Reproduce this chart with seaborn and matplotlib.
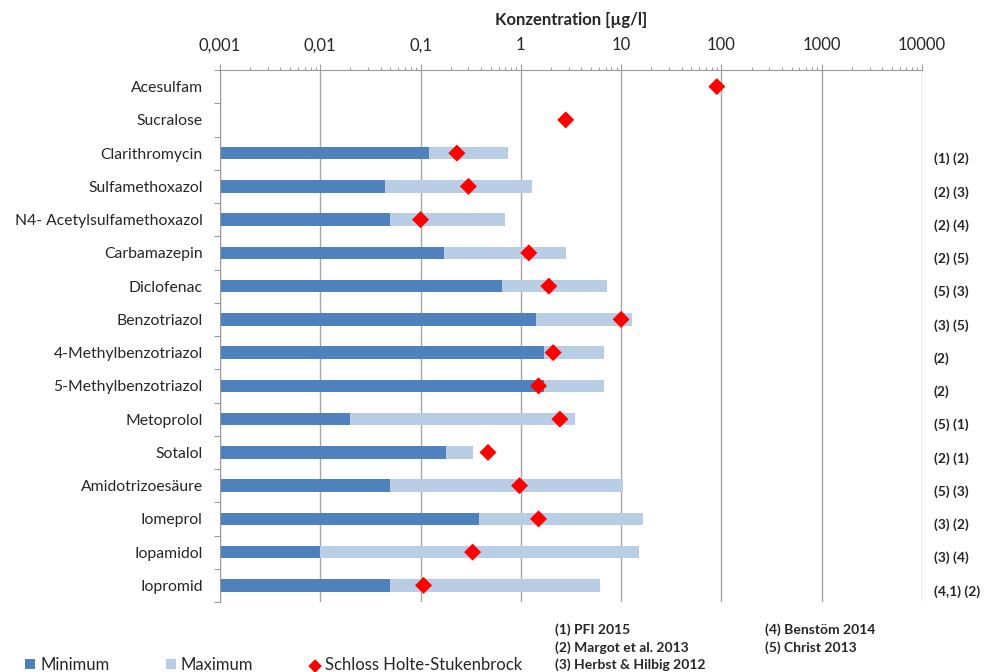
import numpy as np
import pandas as pd
import matplotlib
matplotlib.use("Agg")
import matplotlib.pyplot as plt
from matplotlib.ticker import LogLocator, NullFormatter
import seaborn as sns

# Substances (top to bottom)
categories = [
    "Acesulfam", "Sucralose", "Clarithromycin", "Sulfamethoxazol",
    "N4- Acetylsulfamethoxazol", "Carbamazepin", "Diclofenac", "Benzotriazol",
    "4-Methylbenzotriazol", "5-Methylbenzotriazol", "Metoprolol", "Sotalol",
    "Amidotrizoesäure", "Iomeprol", "Iopamidol", "Iopromid",
]
# Literature minimum / maximum concentrations [µg/l]
minimum = [np.nan, np.nan, 0.12, 0.044, 0.05, 0.17, 0.65, 1.4,
           1.7, 1.7, 0.02, 0.18, 0.05, 0.38, 0.01, 0.05]
maximum = [np.nan, np.nan, 0.74, 1.3, 0.7, 2.8, 7.3, 12.8,
           6.7, 6.7, 3.5, 0.33, 10.4, 16.6, 14.9, 6.2]
# Measured values at Schloss Holte-Stukenbrock [µg/l]
schloss = [90, 2.8, 0.23, 0.3, 0.1, 1.2, 1.9, 10.0,
           2.1, 1.5, 2.45, 0.47, 0.97, 1.5, 0.33, 0.107]
# Literature sources per substance
sources = ["", "", "(1) (2)", "(2) (3)", "(2) (4)", "(2) (5)", "(5) (3)", "(3) (5)",
           "(2)", "(2)", "(5) (1)", "(2) (1)", "(5) (3)", "(3) (2)", "(3) (4)", "(4,1) (2)"]
references = [
    ("(1) PFI 2015", "(4) Benstöm 2014"),
    ("(2) Margot et al. 2013", "(5) Christ 2013"),
    ("(3) Herbst & Hilbig 2012", ""),
]
tick_values = [0.001, 0.01, 0.1, 1, 10, 100, 1000, 10000]
tick_labels = ["0,001", "0,01", "0,1", "1", "10", "100", "1000", "10000"]

sns.set_style("white")
plt.rcParams["font.family"] = ["Lato", "DejaVu Sans"]

C_MIN = "#4F81BD"
C_MAX = "#B9CDE5"
C_GRID = "#A6A6A6"
C_AX = "#9A9A9A"

df = pd.DataFrame({"Substanz": categories, "Minimum": minimum,
                   "Maximum": maximum, "Schloss": schloss,
                   "pos": np.arange(len(categories))})

fig = plt.figure(figsize=(9.9, 6.72), dpi=100)
ax = fig.add_axes([220 / 990, 1 - 602 / 672, 702 / 990, 532 / 672])

sns.barplot(data=df, x="Maximum", y="Substanz", order=categories, orient="h",
            color=C_MAX, saturation=1, width=0.38, linewidth=0, ax=ax,
            label="Maximum", legend=False)
sns.barplot(data=df, x="Minimum", y="Substanz", order=categories, orient="h",
            color=C_MIN, saturation=1, width=0.38, linewidth=0, ax=ax,
            label="Minimum", legend=False)
sns.scatterplot(data=df, x="Schloss", y="pos", marker="D", color="#FF0000",
                s=75, edgecolor="none", zorder=5, ax=ax,
                label="Schloss Holte-Stukenbrock", legend=False)

ax.set_xscale("log")
ax.set_xlim(1e-3, 1e4)
ax.set_ylim(len(categories) - 0.5, -0.5)

# Top concentration axis
ax.xaxis.tick_top()
ax.xaxis.set_label_position("top")
ax.set_xticks(tick_values, labels=tick_labels)
ax.xaxis.set_minor_locator(LogLocator(base=10, subs=np.arange(2, 10)))
ax.xaxis.set_minor_formatter(NullFormatter())
ax.tick_params(axis="x", which="major", direction="out", length=4, width=0.8,
               color=C_AX, labelsize=12, pad=8, top=True, bottom=False)
ax.tick_params(axis="x", which="minor", direction="out", length=2.5, width=0.7,
               color=C_AX, top=True, bottom=False)
ax.set_xlabel("Konzentration [µg/l]", fontsize=12, fontweight="bold", labelpad=9)

# Category axis with tick marks between rows
ax.set_yticks(np.arange(len(categories)), labels=categories)
ax.set_yticks(np.arange(len(categories) + 1) - 0.5, minor=True)
ax.tick_params(axis="y", which="major", length=0, labelsize=11.3, pad=12.5)
ax.tick_params(axis="y", which="minor", direction="out", length=4, width=0.8,
               color=C_AX, left=True)
ax.set_ylabel("")

ax.grid(axis="x", which="major", color=C_GRID, linewidth=1)
ax.grid(axis="y", visible=False)
ax.set_axisbelow(True)
for side in ["bottom", "right"]:
    ax.spines[side].set_visible(False)
for side in ["top", "left"]:
    ax.spines[side].set_color(C_AX)
    ax.spines[side].set_linewidth(0.8)

# Source references next to each row
for i, src in enumerate(sources):
    if src:
        ax.annotate(src, xy=(1.0, i), xycoords=("axes fraction", "data"),
                    xytext=(12, -6), textcoords="offset pixels",
                    ha="left", va="center", fontsize=10, fontweight="bold",
                    annotation_clip=False)

# Legend
h_max = ax.containers[0]
h_min = ax.containers[1]
h_pt = ax.collections[-1]
fig.legend([h_min, h_max, h_pt],
           ["Minimum", "Maximum", "Schloss Holte-Stukenbrock"],
           ncol=3, loc="center left", bbox_to_anchor=(25 / 990, 1 - 665 / 672),
           frameon=False, fontsize=12, handlelength=0.6, handleheight=0.6,
           handletextpad=0.3, columnspacing=3.4, borderpad=0, borderaxespad=0,
           scatterpoints=1, markerscale=0.8)

# Reference list
for r, (left, right) in enumerate(references):
    y = 1 - (630 + r * 17.5) / 672
    fig.text(555 / 990, y, left, fontsize=10, fontweight="bold", va="center")
    if right:
        fig.text(765 / 990, y, right, fontsize=10, fontweight="bold", va="center")

fig.savefig("out.png", dpi=100)
